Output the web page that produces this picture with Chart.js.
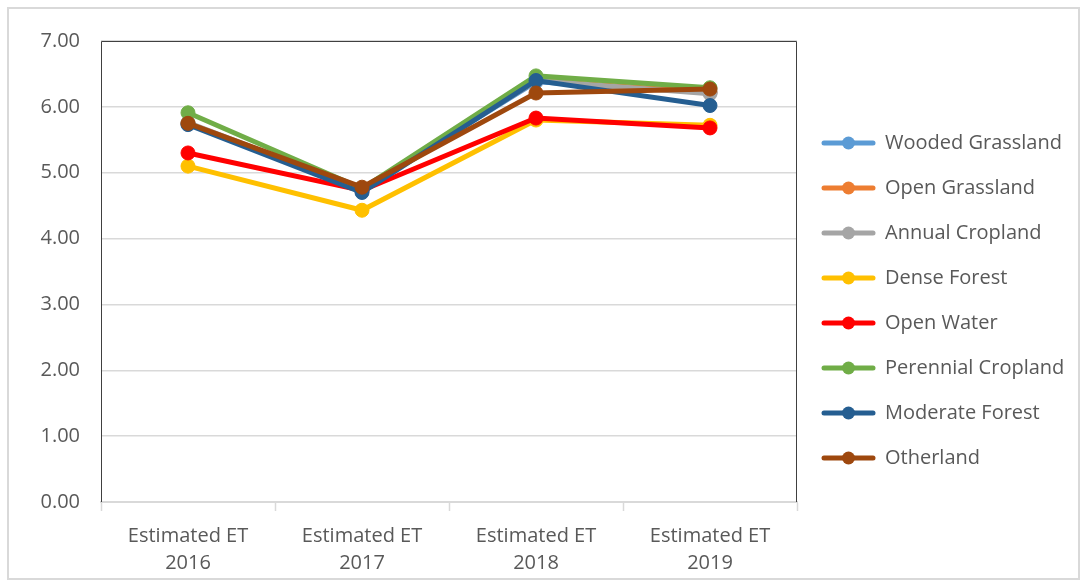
<!DOCTYPE html>
<html>
<head>
<meta charset="utf-8">
<title>Estimated ET by land cover</title>
<script src="https://cdn.jsdelivr.net/npm/chart.js@4.4.1/dist/chart.umd.min.js"></script>
<style>
    html, body { margin: 0; padding: 0; background: #ffffff; }
    .chart-frame {
        position: absolute;
        left: 7px;
        top: 7px;
        width: 1073px;
        height: 573px;
        box-sizing: border-box;
        border: 2px solid #d9d9d9;
        background: #ffffff;
    }
    #et-chart { display: block; }
</style>
</head>
<body>
<div class="chart-frame">
    <canvas id="et-chart" width="1069" height="569"></canvas>
</div>
<script>
var categories = [
    ['Estimated ET', '2016'],
    ['Estimated ET', '2017'],
    ['Estimated ET', '2018'],
    ['Estimated ET', '2019']
];

var woodedGrassland = [5.74, 4.74, 6.38, 6.22];
var openGrassland = [5.75, 4.75, 6.40, 6.22];
var annualCropland = [5.76, 4.75, 6.40, 6.20];
var denseForest = [5.10, 4.43, 5.80, 5.72];
var openWater = [5.30, 4.73, 5.83, 5.68];
var perennialCropland = [5.91, 4.76, 6.47, 6.29];
var moderateForest = [5.73, 4.70, 6.40, 6.02];
var otherland = [5.75, 4.78, 6.21, 6.27];

var seriesNames = ['Wooded Grassland', 'Open Grassland', 'Annual Cropland', 'Dense Forest',
    'Open Water', 'Perennial Cropland', 'Moderate Forest', 'Otherland'];
var seriesValues = [woodedGrassland, openGrassland, annualCropland, denseForest,
    openWater, perennialCropland, moderateForest, otherland];
var seriesColors = ['#5B9BD5', '#ED7D31', '#A5A5A5', '#FFC000',
    '#FF0000', '#70AD47', '#255E91', '#9E480E'];

var yTicks = { min: 0, max: 7, step: 1 };

var FONT = 'Open Sans';
var TEXT = '#595959';
var GRID = '#d9d9d9';

document.addEventListener('DOMContentLoaded', function () {
    initEtChart();
});

// small line-with-dot image for the legend, like the spreadsheet one
function legendMarker(color) {
    var c = document.createElement('canvas');
    c.width = 55;
    c.height = 16;
    var ctx = c.getContext('2d');
    ctx.strokeStyle = color;
    ctx.lineWidth = 5;
    ctx.lineCap = 'round';
    ctx.beginPath();
    ctx.moveTo(3, 8);
    ctx.lineTo(52, 8);
    ctx.stroke();
    ctx.fillStyle = color;
    ctx.beginPath();
    ctx.arc(27.5, 8, 6.5, 0, Math.PI * 2);
    ctx.fill();
    return c;
}

var plotBorder = {
    id: 'plotBorder',
    beforeDatasetsDraw: function (chart) {
        var a = chart.chartArea;
        var ctx = chart.ctx;
        ctx.save();
        ctx.strokeStyle = '#404040';
        ctx.lineWidth = 1;
        ctx.beginPath();
        ctx.moveTo(a.left + 0.5, a.bottom);
        ctx.lineTo(a.left + 0.5, a.top + 0.5);
        ctx.lineTo(a.right - 0.5, a.top + 0.5);
        ctx.lineTo(a.right - 0.5, a.bottom);
        ctx.stroke();
        ctx.restore();
    }
};

function initEtChart() {
    var canvasEl = document.getElementById('et-chart');
    if (!canvasEl) return;

    var datasets = seriesNames.map(function (name, i) {
        return {
            label: name,
            data: seriesValues[i],
            borderColor: seriesColors[i],
            backgroundColor: seriesColors[i],
            pointBackgroundColor: seriesColors[i],
            pointBorderColor: seriesColors[i],
            borderWidth: 5,
            pointRadius: 7,
            pointBorderWidth: 1,
            pointHoverRadius: 7,
            tension: 0,
            fill: false,
            // later series sit on top, as in the original sheet
            order: seriesNames.length - 1 - i
        };
    });

    new Chart(canvasEl, {
        type: 'line',
        data: {
            labels: categories,
            datasets: datasets
        },
        plugins: [plotBorder],
        options: {
            responsive: false,
            animation: false,
            devicePixelRatio: 1,
            layout: {
                padding: { left: 0, right: 9, top: 17, bottom: 3 }
            },
            plugins: {
                tooltip: { enabled: false },
                legend: {
                    position: 'right',
                    reverse: true,
                    maxWidth: 272,
                    labels: {
                        usePointStyle: true,
                        pointStyleWidth: 53,
                        padding: 25,
                        color: TEXT,
                        font: { family: FONT, size: 20 },
                        generateLabels: function (chart) {
                            var items = Chart.defaults.plugins.legend.labels.generateLabels(chart);
                            items.forEach(function (item) {
                                item.pointStyle = legendMarker(seriesColors[item.datasetIndex]);
                            });
                            return items;
                        }
                    }
                }
            },
            scales: {
                x: {
                    offset: true,
                    grid: {
                        offset: true,
                        drawOnChartArea: false,
                        drawTicks: true,
                        tickLength: 9,
                        tickColor: GRID,
                        tickWidth: 1.5
                    },
                    border: { display: true, color: GRID, width: 2 },
                    ticks: {
                        color: TEXT,
                        padding: 12,
                        maxRotation: 0,
                        autoSkip: false,
                        font: { family: FONT, size: 20, lineHeight: 1.35 }
                    },
                    afterFit: function (scale) {
                        scale.height = 73;
                    }
                },
                y: {
                    min: yTicks.min,
                    max: yTicks.max,
                    grid: {
                        color: GRID,
                        lineWidth: 1.5,
                        drawTicks: false
                    },
                    border: { display: false },
                    ticks: {
                        stepSize: yTicks.step,
                        color: TEXT,
                        padding: 21,
                        font: { family: FONT, size: 20 },
                        callback: function (val) { return Number(val).toFixed(2); }
                    },
                    afterFit: function (scale) {
                        scale.width = 92;
                        scale.paddingTop = 32;
                    }
                }
            }
        }
    });
}
</script>
</body>
</html>
